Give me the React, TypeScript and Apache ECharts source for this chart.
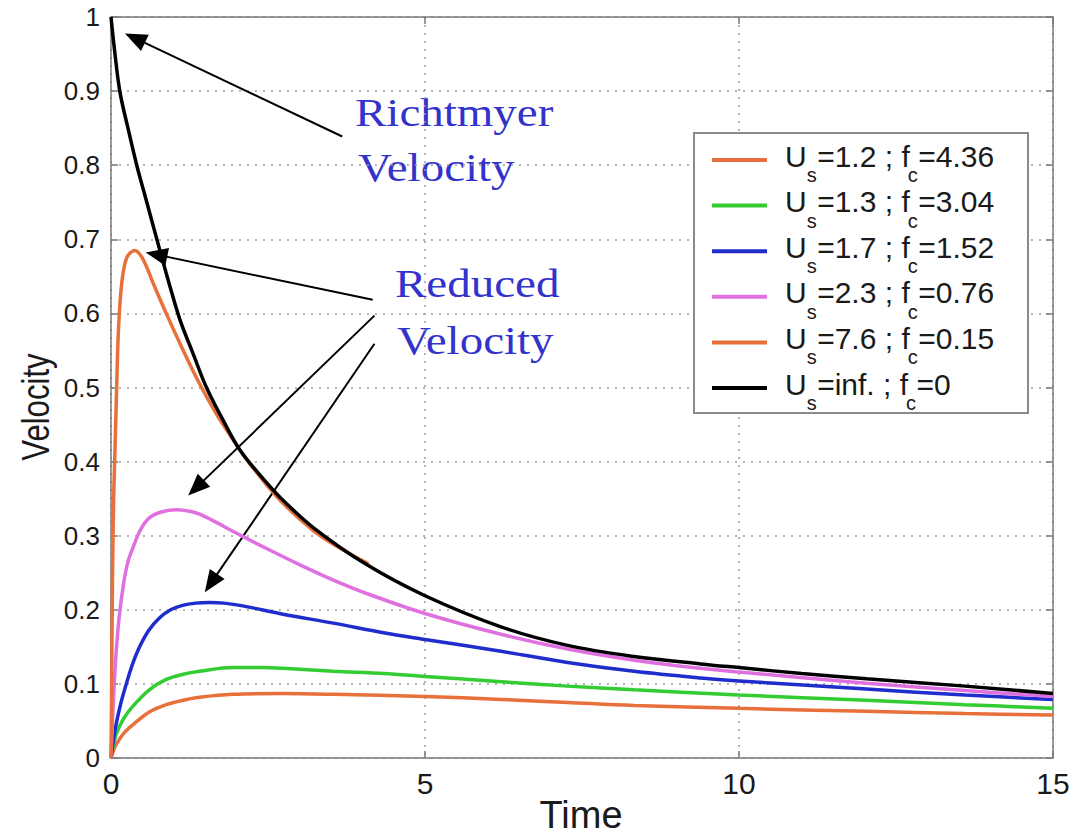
import React, { useEffect, useRef } from "react";
import * as echarts from "echarts";

// ---- data ----
const US_LABELS = ["1.2", "1.3", "1.7", "2.3", "7.6", "inf."];
const FC_LABELS = ["4.36", "3.04", "1.52", "0.76", "0.15", "0"];
const COLORS = ["#e8703a", "#33cc33", "#1f2dcc", "#e070e0", "#e8703a", "#000000"];

// Us=1.2 ; fc=4.36
const T_US12 = [0, 0.04, 0.08, 0.2, 0.35, 0.61, 0.88, 1.15, 1.41, 1.94, 2.74, 3.54, 5, 6.21, 7.27, 8.33, 10, 12.03, 13.6, 15];
const V_US12 = [0, 0.01, 0.018, 0.033, 0.045, 0.062, 0.072, 0.078, 0.082, 0.086, 0.087, 0.086, 0.083, 0.079, 0.075, 0.071, 0.067, 0.063, 0.06, 0.058];
// Us=1.3 ; fc=3.04
const T_US13 = [0, 0.04, 0.08, 0.2, 0.35, 0.61, 0.88, 1.15, 1.41, 1.94, 2.4, 2.74, 3.54, 4.34, 5, 6.21, 7.27, 8.33, 10, 12.03, 13.6, 15];
const V_US13 = [0, 0.018, 0.032, 0.053, 0.07, 0.092, 0.106, 0.113, 0.117, 0.122, 0.122, 0.121, 0.117, 0.114, 0.11, 0.103, 0.097, 0.092, 0.085, 0.078, 0.072, 0.067];
// Us=1.7 ; fc=1.52
const T_US17 = [0, 0.04, 0.08, 0.16, 0.24, 0.34, 0.45, 0.6, 0.77, 0.95, 1.14, 1.35, 1.57, 1.8, 2.05, 2.4, 2.74, 3.54, 4.34, 5, 6.21, 7.27, 8.33, 9.39, 10, 12.03, 13.6, 15];
const V_US17 = [0, 0.025, 0.045, 0.075, 0.099, 0.126, 0.149, 0.172, 0.189, 0.2, 0.206, 0.209, 0.21, 0.209, 0.206, 0.2, 0.194, 0.182, 0.169, 0.16, 0.144, 0.129, 0.117, 0.108, 0.104, 0.093, 0.085, 0.079];
// Us=2.3 ; fc=0.76
const T_US23 = [0, 0.04, 0.08, 0.13, 0.2, 0.27, 0.35, 0.47, 0.61, 0.8, 1.04, 1.25, 1.41, 1.7, 1.94, 2.47, 3.0, 3.54, 4.07, 5, 6.21, 7.27, 8.33, 9.39, 10, 12.03, 13.6, 15];
const V_US23 = [0, 0.08, 0.14, 0.19, 0.235, 0.265, 0.284, 0.308, 0.324, 0.332, 0.335, 0.333, 0.329, 0.317, 0.306, 0.283, 0.261, 0.24, 0.222, 0.195, 0.167, 0.147, 0.132, 0.121, 0.116, 0.101, 0.091, 0.083];
// Us=7.6 ; fc=0.15
const T_US76 = [0, 0.01, 0.025, 0.045, 0.065, 0.09, 0.12, 0.17, 0.25, 0.38, 0.51, 0.67, 0.89, 1.15, 1.41, 1.68, 1.94, 2.21, 2.69, 3.22, 3.65, 4.1];
const V_US76 = [0, 0.1, 0.25, 0.36, 0.42, 0.5, 0.58, 0.64, 0.675, 0.685, 0.673, 0.641, 0.598, 0.55, 0.505, 0.464, 0.43, 0.397, 0.348, 0.307, 0.283, 0.262];
// Us=inf. ; fc=0 (Richtmyer velocity)
const T_INF = [0, 0.05, 0.14, 0.27, 0.41, 0.57, 0.73, 0.94, 1.1, 1.31, 1.52, 1.79, 2.05, 2.37, 2.69, 3.22, 4.07, 5, 6.21, 7.27, 8.33, 9.39, 10, 11, 12.03, 13.6, 15];
const V_INF = [1.0, 0.96, 0.9, 0.85, 0.8, 0.75, 0.7, 0.636, 0.591, 0.545, 0.5, 0.455, 0.416, 0.382, 0.352, 0.311, 0.261, 0.219, 0.177, 0.152, 0.137, 0.127, 0.122, 0.114, 0.107, 0.097, 0.087];

const SERIES_T = [T_US12, T_US13, T_US17, T_US23, T_US76, T_INF];
const SERIES_V = [V_US12, V_US13, V_US17, V_US23, V_US76, V_INF];

// annotation arrows in data coordinates: [fromT, fromV, headT, headV]
const ARROWS = [
  [3.682, 0.8387, 0.381, 0.9714],
  [4.168, 0.6183, 0.723, 0.6793],
  [4.195, 0.597, 1.355, 0.3645],
  [4.195, 0.559, 1.592, 0.236],
];

const SANS = '"Liberation Sans", Arial, Helvetica, sans-serif';
const SERIF = '"Liberation Serif", "Times New Roman", serif';

function measure(text: string, size: number): number {
  const c = document.createElement("canvas").getContext("2d");
  if (!c) return text.length * size * 0.55;
  c.font = `${size}px ${SANS}`;
  return c.measureText(text).width;
}

function buildLegend(): any[] {
  const BOX = { x: 694, y: 133, w: 334, h: 280 };
  const first = 160;
  const step = 45.6;
  const main = 30;
  const sub = 20;
  const els: any[] = [
    {
      type: "rect",
      shape: { x: BOX.x, y: BOX.y, width: BOX.w, height: BOX.h },
      style: { fill: "#ffffff", stroke: "#8a8a8a", lineWidth: 2 },
      z: 100,
    },
  ];
  US_LABELS.forEach((us, i) => {
    const cy = first + i * step;
    els.push({
      type: "rect",
      shape: { x: 712, y: cy - 2, width: 55, height: 4 },
      style: { fill: COLORS[i] },
      z: 101,
    });
    const parts: [string, boolean][] = [
      ["U", false],
      ["s", true],
      [`=${us} ; f`, false],
      ["c", true],
      [`=${FC_LABELS[i]}`, false],
    ];
    let x = 785;
    parts.forEach(([txt, isSub], k) => {
      const size = isSub ? sub : main;
      let px = x;
      if (isSub && k === 3) px = x - 2;
      els.push({
        type: "text",
        x: px,
        y: isSub ? cy + 15 : cy - 4,
        z: 102,
        style: {
          text: txt,
          fontSize: size,
          fontFamily: SANS,
          fill: "#1a1a1a",
          align: "left",
          verticalAlign: "middle",
        },
      });
      x = px + measure(txt, size) + (isSub ? 0.5 : 0);
    });
  });
  return els;
}

export default function App() {
  const ref = useRef<HTMLDivElement>(null);

  useEffect(() => {
    document.body.style.margin = "0";
    if (!ref.current) return;
    const chart = echarts.init(ref.current, null, { renderer: "svg" });

    const names = US_LABELS.map((u, i) => `Us=${u} ; fc=${FC_LABELS[i]}`);
    const axisLineStyle = { color: "#7a7a7a", width: 1.5 };
    const gridLine = { show: true, lineStyle: { color: "#9a9a9a", width: 1.5, type: [2, 6] as any } };

    const series: any[] = names.map((name, i) => ({
      name,
      type: "line",
      data: SERIES_T[i].map((t, k) => [t, SERIES_V[i][k]]),
      showSymbol: false,
      symbol: "none",
      smooth: 0.35,
      color: COLORS[i],
      lineStyle: { color: COLORS[i], width: 3.5 },
      z: 2 + i,
    }));

    series[5].markLine = {
      silent: true,
      animation: false,
      label: { show: false },
      lineStyle: { color: "#000", width: 2, type: "solid" },
      data: ARROWS.map((a) => [
        { coord: [a[0], a[1]], symbol: "none" },
        { coord: [a[2], a[3]], symbol: "triangle", symbolSize: [18, 22] },
      ]),
    };

    const annotation = (text: string, x: number, y: number) => ({
      type: "text", x, y, scaleY: 0.87,
      style: { text, fontSize: 47, fontFamily: SERIF, fill: "#3333cc", align: "left", verticalAlign: "middle" },
    });

    const option: any = {
      animation: false,
      backgroundColor: "#ffffff",
      grid: { left: 111, top: 17, right: 22, bottom: 80, containLabel: false },
      legend: { show: false },
      xAxis: [
        {
          type: "value", min: 0, max: 15, interval: 5, position: "bottom",
          axisLine: { show: true, onZero: false, lineStyle: axisLineStyle },
          axisTick: { show: true, inside: true, length: 7, lineStyle: axisLineStyle },
          axisLabel: { fontSize: 30, color: "#1a1a1a", margin: 10, fontFamily: SANS },
          splitLine: gridLine,
        },
        {
          type: "value", min: 0, max: 15, interval: 5, position: "top",
          axisLine: { show: true, onZero: false, lineStyle: axisLineStyle },
          axisTick: { show: true, inside: true, length: 7, lineStyle: axisLineStyle },
          axisLabel: { show: false },
          splitLine: { show: false },
        },
      ],
      yAxis: [
        {
          type: "value", min: 0, max: 1, interval: 0.1, position: "left",
          axisLine: { show: true, onZero: false, lineStyle: axisLineStyle },
          axisTick: { show: true, inside: true, length: 7, lineStyle: axisLineStyle },
          axisLabel: {
            fontSize: 26, color: "#1a1a1a", margin: 11, fontFamily: SANS,
            formatter: (v: number) => String(Math.round(v * 10) / 10),
          },
          splitLine: gridLine,
        },
        {
          type: "value", min: 0, max: 1, interval: 0.1, position: "right",
          axisLine: { show: true, onZero: false, lineStyle: axisLineStyle },
          axisTick: { show: true, inside: true, length: 7, lineStyle: axisLineStyle },
          axisLabel: { show: false },
          splitLine: { show: false },
        },
      ],
      graphic: [
        annotation("Richtmyer", 355, 113),
        annotation("Velocity", 358, 168),
        annotation("Reduced", 395, 284),
        annotation("Velocity", 397, 341),
        {
          type: "text", x: 581, y: 815,
          style: { text: "Time", fontSize: 38, fontFamily: SANS, fill: "#1a1a1a", align: "center", verticalAlign: "middle" },
        },
        {
          type: "text", x: 36, y: 407, rotation: Math.PI / 2, scaleX: 0.82,
          style: { text: "Velocity", fontSize: 38, fontFamily: SANS, fill: "#1a1a1a", align: "center", verticalAlign: "middle" },
        },
        ...buildLegend(),
      ],
      series,
    };

    chart.setOption(option);
    return () => chart.dispose();
  }, []);

  return <div ref={ref} style={{ width: 1075, height: 838, display: "block" }} />;
}
